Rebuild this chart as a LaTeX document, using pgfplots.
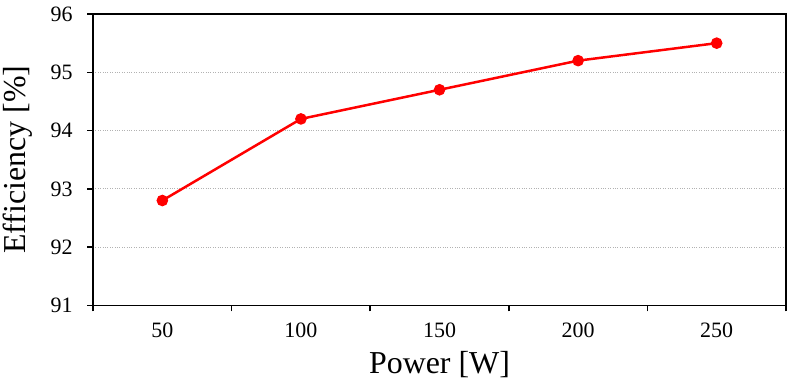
\documentclass[border=0pt]{standalone}
\usepackage{pgfplots}
\pgfplotsset{compat=1.18}
\usepackage{fontspec}
\setmainfont{Liberation Serif}
\begin{document}
\begin{tikzpicture}
\begin{axis}[
  scale only axis,
  width=692bp, height=291bp,
  xmin=-0.5, xmax=4.5,
  ymin=91, ymax=96,
  xtick={-0.5,0.5,1.5,2.5,3.5,4.5},
  xticklabels={},
  extra x ticks={0,1,2,3,4},
  extra x tick labels={50,100,150,200,250},
  extra x tick style={major tick length=0pt, tick style={draw=none}},
  ytick={91,92,93,94,95,96},
  tick align=outside,
  xtick pos=bottom, ytick pos=left,
  major tick length=6bp,
  tick style={black, line width=1.5pt},
  axis line style={line width=1.6pt},
  ymajorgrids,
  major grid style={gray!60, dotted, line width=1.2pt},
  tick label style={font=\fontsize{22}{24}\selectfont},
  /pgf/number format/assume math mode=true,
  xticklabel style={yshift=-14bp},
  yticklabel style={xshift=-11bp},
  xlabel={Power [W]},
  ylabel={Efficiency [\%]},
  label style={font=\fontsize{32}{36}\selectfont},
  xlabel style={yshift=-1bp},
  ylabel style={yshift=11bp},
]
\addplot[red, line width=2.5pt, mark=*, mark size=4.5bp, mark options={fill=red, draw=red}]
  coordinates {(0,92.8) (1,94.2) (2,94.7) (3,95.2) (4,95.5)};
\end{axis}
\path (current axis.south east) ++(13bp,0);
\path (current axis.north) ++(0,14bp);
\end{tikzpicture}
\end{document}
